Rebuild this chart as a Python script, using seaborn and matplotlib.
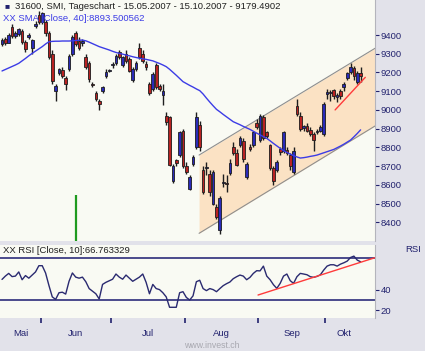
import numpy as np
import pandas as pd
import seaborn as sns
import matplotlib
matplotlib.use("Agg")
import matplotlib.pyplot as plt

# SMI daily candles 16.05.2007 - 15.10.2007
open_ = [9350, 9380, 9360, 9445, 9395, 9405, 9420, 9365, 9390, 9330,
         9450, 9505, 9470, 9470, 9410, 9300, 9100, 9195, 9215, 9170,
         9220, 9300, 9410, 9370, 9360, 9285, 9250, 9140, 9090, 9050,
         9100, 9180, 9210, 9240, 9250, 9310, 9240, 9300, 9270, 9160,
         9220, 9330, 9300, 9245, 9140, 9110, 9240, 9130, 9080, 8970,
         8960, 8620, 8730, 8760, 8890, 8700, 8580, 8710, 8800, 8920,
         8680, 8690, 8660, 8500, 8480, 8360, 8610, 8610, 8665, 8800,
         8770, 8810, 8835, 8640, 8800, 8810, 8930, 8840, 8960, 8880,
         8810, 8690, 8680, 8790, 8780, 8785, 8760, 8670, 9020, 8970,
         8905, 8915, 8895, 8870, 8880, 8890, 8870, 9085, 9090, 9105,
         9070, 9100, 9120, 9170, 9200, 9225, 9150, 9195]
close = [9375, 9355, 9400, 9395, 9410, 9430, 9365, 9325, 9400, 9375,
         9460, 9470, 9515, 9410, 9280, 9155, 9130, 9220, 9180, 9140,
         9290, 9390, 9350, 9330, 9370, 9230, 9165, 9135, 9060, 9030,
         9120, 9205, 9215, 9245, 9290, 9280, 9280, 9260, 9210, 9220,
         9250, 9280, 9260, 9230, 9090, 9190, 9120, 9110, 9100, 8935,
         8705, 8700, 8715, 8880, 8700, 8670, 8640, 8750, 8960, 8800,
         8560, 8690, 8560, 8670, 8430, 8530, 8612, 8606, 8715, 8770,
         8705, 8850, 8740, 8710, 8790, 8880, 8910, 8970, 8850, 8860,
         8690, 8620, 8720, 8775, 8880, 8770, 8700, 8780, 8980, 8900,
         8915, 8890, 8870, 8840, 8890, 8910, 9030, 9095, 9090, 9075,
         9080, 9075, 9140, 9195, 9230, 9180, 9195, 9179]
high = [9385, 9390, 9410, 9460, 9420, 9440, 9430, 9375, 9410, 9380,
        9475, 9530, 9525, 9480, 9420, 9320, 9140, 9225, 9230, 9180,
        9300, 9400, 9420, 9390, 9380, 9300, 9260, 9150, 9100, 9060,
        9130, 9220, 9220, 9255, 9300, 9320, 9290, 9320, 9280, 9230,
        9260, 9360, 9320, 9260, 9150, 9200, 9250, 9140, 9140, 8990,
        8970, 8710, 8740, 8890, 8900, 8720, 8650, 8760, 8990, 8940,
        8700, 8720, 8680, 8680, 8500, 8540, 8660, 8650, 8740, 8830,
        8790, 8860, 8850, 8720, 8820, 8890, 8950, 8980, 8975, 8890,
        8820, 8700, 8730, 8800, 8890, 8800, 8770, 8800, 9060, 8990,
        8920, 8930, 8910, 8880, 8900, 8920, 9040, 9110, 9105, 9110,
        9090, 9110, 9150, 9200, 9250, 9235, 9210, 9230]
low = [9340, 9345, 9355, 9385, 9385, 9395, 9350, 9310, 9380, 9300,
       9440, 9460, 9460, 9395, 9270, 9140, 9050, 9185, 9170, 9105,
       9210, 9290, 9340, 9320, 9340, 9220, 9150, 9120, 9050, 9000,
       9090, 9170, 9200, 9225, 9240, 9270, 9230, 9250, 9200, 9150,
       9210, 9270, 9250, 9215, 9080, 9100, 9110, 9100, 9026, 8920,
       8700, 8610, 8700, 8750, 8690, 8660, 8570, 8700, 8790, 8780,
       8550, 8650, 8540, 8490, 8420, 8340, 8590, 8560, 8650, 8760,
       8700, 8800, 8720, 8630, 8780, 8800, 8900, 8830, 8840, 8850,
       8680, 8600, 8670, 8760, 8770, 8760, 8680, 8660, 8970, 8890,
       8890, 8880, 8860, 8780, 8870, 8880, 8860, 9060, 9050, 9060,
       9040, 9060, 9100, 9160, 9190, 9160, 9140, 9150]

# SMA 40 as drawn
sma40 = [9208, 9216, 9224, 9232, 9240, 9249, 9262, 9275, 9289, 9302,
         9314, 9326, 9338, 9352, 9364, 9366, 9367, 9367, 9368, 9368,
         9368, 9369, 9371, 9372, 9373, 9369, 9362, 9354, 9346, 9338,
         9332, 9326, 9320, 9313, 9307, 9302, 9298, 9293, 9289, 9284,
         9280, 9276, 9273, 9270, 9266, 9262, 9255, 9248, 9240, 9231,
         9217, 9201, 9185, 9168, 9151, 9141, 9131, 9122, 9112, 9103,
         9085, 9063, 9042, 9022, 9003, 8990, 8976, 8963, 8950, 8937,
         8929, 8921, 8912, 8904, 8896, 8886, 8876, 8867, 8857, 8848,
         8835, 8821, 8808, 8795, 8782, 8773, 8764, 8756, 8749, 8743,
         8745, 8748, 8752, 8755, 8759, 8765, 8771, 8777, 8783, 8789,
         8798, 8807, 8817, 8828, 8839, 8856, 8874, 8893.5]

# RSI 10 as drawn
rsi10 = [49.8, 53, 55.6, 52.5, 53, 57, 49.5, 53.5, 51, 54,
         57, 63, 63, 56, 44, 33, 30.6, 37, 37.5, 35.7,
         48, 56, 52, 51, 52, 47.6, 41, 38.5, 36, 31,
         45, 47, 48.5, 50, 55, 52, 50, 54, 51, 48,
         50, 52, 55, 47, 36, 45, 41, 40, 37, 33,
         23, 23, 23, 37, 38, 32.5, 30, 34, 47.6, 49,
         41, 39, 41, 40, 38, 41, 43.8, 45.7, 47.3, 50.5,
         52.4, 54, 53, 49.5, 51.8, 55.6, 58.2, 58, 62.6, 53,
         49.5, 44.7, 41.2, 46, 53, 55, 48.6, 46, 52.4, 55.6,
         55, 54.3, 52.4, 51.8, 52.7, 54.3, 58.8, 62.6, 63.9, 63.9,
         62.6, 64.5, 65.8, 67.4, 70.9, 72.2, 68.4, 66.76]

# trend channel and trend lines (day index, value)
channel_x = [58.8, 111.3]
channel_up = [8759, 9329]
channel_lo = [8341, 8914]
trend_x = [99.4, 108.4]
trend_y = [9000, 9174]
rsi_trend_x = [76.4, 111.3]
rsi_trend_y = [34.8, 70.7]
signal_day = 22
signal_top = 8546

dates = pd.bdate_range("2007-05-16", "2007-10-15")
dates = dates[dates != pd.Timestamp("2007-08-01")]
month_names = {5: "Mai", 6: "Jun", 7: "Jul", 8: "Aug", 9: "Sep", 10: "Okt"}

sns.set_style("white")
plt.rcParams["font.family"] = ["Liberation Sans", "DejaVu Sans"]

navy = "#22226e"
fig = plt.figure(figsize=(4.25, 3.51), dpi=100, facecolor="#e2e2ea")
ax = fig.add_axes([0, 1 - 241 / 351, 375 / 425, 241 / 351])
ax_r = fig.add_axes([0, 1 - 318 / 351, 375 / 425, 73 / 351])

df = pd.DataFrame({"x": np.arange(len(close)), "open": open_, "high": high,
                   "low": low, "close": close, "sma": sma40, "rsi": rsi10})
up = df["close"] >= df["open"]
body_lo = df[["open", "close"]].min(axis=1)
body_h = (df["close"] - df["open"]).abs().clip(lower=4)

# main panel
ax.set_facecolor("#f9faf3")
ax.fill_between(channel_x, channel_lo, channel_up, color="#fbe2c4", lw=0, zorder=0)
ax.plot(channel_x, channel_up, color="#8e8e8e", lw=0.8, zorder=1)
ax.plot(channel_x, channel_lo, color="#8e8e8e", lw=0.8, zorder=1)
ax.vlines(df["x"], df["low"], df["high"], color="#1e1e1e", lw=1.0, zorder=2)
ax.bar(df["x"], body_h, bottom=body_lo, width=0.8,
       color=np.where(up, "#2a2ab8", "#b82222"), edgecolor="#1e1e1e", lw=0.6, zorder=3)
sns.lineplot(data=df, x="x", y="sma", ax=ax, color="#3c3ce6", lw=1, zorder=4)
ax.plot(trend_x, trend_y, color="#ff3b3b", lw=1, zorder=5)
ax.vlines(signal_day, 8300, signal_top, color="#1f9a1f", lw=1.6, zorder=5)

ax.set_xlim(-0.6, 111.3)
ax.set_ylim(8300, 9587)
ax.set_yticks(range(8400, 9401, 100))
ax.yaxis.tick_right()
ax.tick_params(axis="y", right=True, length=3, width=0.8, pad=1, colors=navy, labelsize=6.8)
ax.set_xticks([])
ax.set_xlabel("")
ax.set_ylabel("")
for s in ["top", "left", "bottom"]:
    ax.spines[s].set_visible(False)
ax.spines["right"].set_color("#b4b4bc")

ax.text(0.012, 0.985, "\u25a0", transform=ax.transAxes, va="top", ha="left",
        color=navy, fontsize=6)
ax.text(0.04, 0.99, "31600, SMI, Tageschart - 15.05.2007 - 15.10.2007 - 9179.4902",
        transform=ax.transAxes, va="top", ha="left", color="#202020", fontsize=6.8)
ax.text(0.008, 0.94, "XX SMA [Close, 40]:8893.500562", transform=ax.transAxes,
        va="top", ha="left", color="#3c3ce6", fontsize=6.8)

# RSI panel
ax_r.set_facecolor("#f9faf3")
ax_r.axhline(70, color="#4a4a8c", lw=1.4)
ax_r.axhline(30, color="#4a4a8c", lw=1.4)
sns.lineplot(data=df, x="x", y="rsi", ax=ax_r, color="#2a2a70", lw=1)
ax_r.plot(rsi_trend_x, rsi_trend_y, color="#ff3b3b", lw=1)
ax_r.set_xlim(-0.6, 111.3)
ax_r.set_ylim(12.7, 82.9)
ax_r.set_yticks([20, 40])
ax_r.yaxis.tick_right()
ax_r.tick_params(axis="y", right=True, length=3, width=0.8, pad=1, colors=navy, labelsize=6.8)
ax_r.set_xlabel("")
ax_r.set_ylabel("")
for s in ["top", "left", "bottom"]:
    ax_r.spines[s].set_visible(False)
ax_r.spines["right"].set_color("#b4b4bc")
ax_r.text(0.008, 0.99, "XX RSI [Close, 10]:66.763329", transform=ax_r.transAxes,
          va="top", ha="left", color="#202020", fontsize=6.8)
fig.text(413 / 425, 1 - 250 / 351, "RSI", ha="center", va="center",
         color=navy, fontsize=6.8)

# month ticks at month changes, labels in the middle of each month
months = pd.Series(dates.month)
starts = np.flatnonzero(months.diff().fillna(0).values != 0)
ax_r.set_xticks(starts - 0.5)
ax_r.set_xticklabels([])
mids = months.groupby(months).apply(lambda s: (s.index.min() + s.index.max()) / 2)
ax_r.set_xticks(mids.values, minor=True)
ax_r.set_xticklabels([month_names[m] for m in mids.index], minor=True)
ax_r.tick_params(axis="x", which="major", bottom=True, length=3.5, width=1.2,
                 colors=navy, direction="out")
ax_r.tick_params(axis="x", which="minor", bottom=True, length=0, pad=8,
                 labelsize=6.8, labelcolor=navy)

fig.text(212 / 425, 1 - 345 / 351, "www.invest.ch", ha="center", va="center",
         color="#a8a8b0", fontsize=6.3)

fig.savefig("out.png", dpi=100, facecolor=fig.get_facecolor())
